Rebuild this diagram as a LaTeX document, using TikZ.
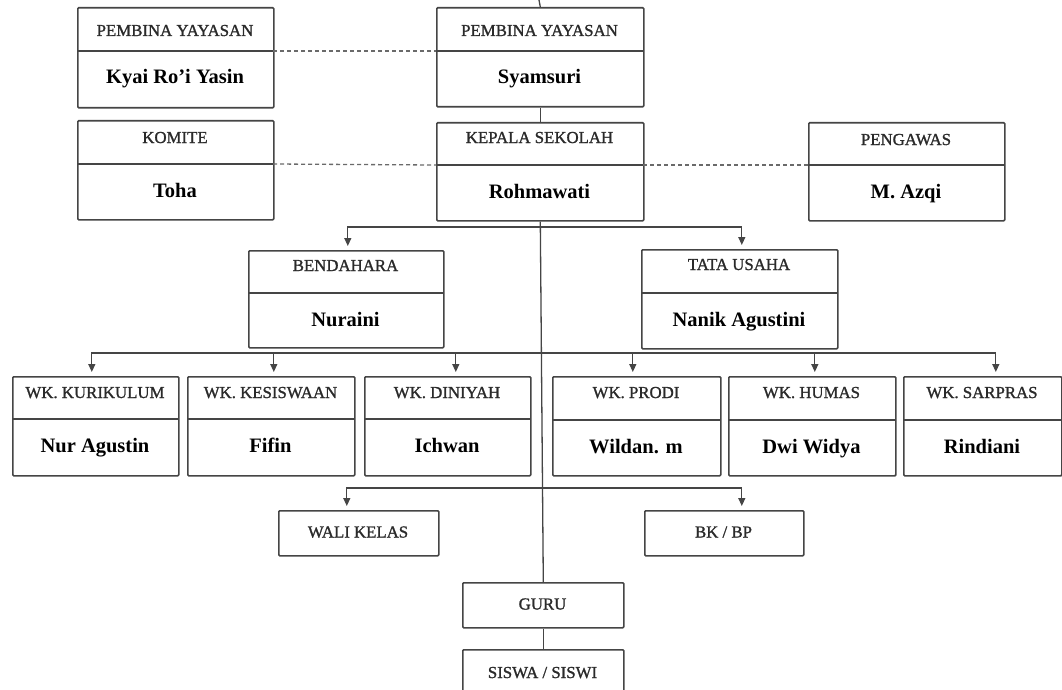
\documentclass[tikz,border=0pt]{standalone}
\usepackage{fontspec}
\setmainfont{Liberation Serif}
\newfontfamily\hdrfont{Liberation Serif}[FakeBold=1.2]
\usetikzlibrary{arrows.meta}
\definecolor{ln}{HTML}{454545}
\definecolor{hd}{HTML}{2a2a2a}
\tikzset{
  box/.style={draw=ln, line width=1.6pt, rectangle, rounded corners=1pt, inner sep=0pt, fill=white},
  boxline/.style={draw=ln, line width=1.5pt},
  hdr/.style={inner sep=0pt, text=hd, font=\hdrfont\fontsize{16.8}{19}\selectfont},
  nm/.style={inner sep=0pt, text=black, font=\bfseries\fontsize{20.5}{23}\selectfont},
  conn/.style={draw=ln, line width=1.3pt},
  arr/.style={conn, -{Triangle[length=8pt,width=7pt]}, shorten >=4pt},
  dashlink/.style={draw=ln!80, line width=1.3pt, dash pattern=on 4pt off 3pt},
}
\newcommand\orgbox[9]{%
  \node[box, anchor=north west, minimum width={(#4-#2)*1pt}, minimum height={(#5-#3)*1pt}] (#1) at (#2,#3) {};
  \draw[boxline] (#2,#6) coordinate (#1-dw) -- (#4,#6) coordinate (#1-de);
  \node[hdr, anchor=base] (#1-h) at ({(#2+#4)/2},{#3+#7}) {#8};
  \node[nm, anchor=base] (#1-n) at ({(#2+#4)/2},{#6+33}) {#9};
}
\newcommand\simplebox[6]{%
  \node[box, anchor=north west, minimum width={(#4-#2)*1pt}, minimum height={(#5-#3)*1pt}] (#1) at (#2,#3) {};
  \node[hdr, anchor=base] (#1-t) at ({(#2+#4)/2},{(#3+#5)/2+5}) {#6};
}
\begin{document}
\begin{tikzpicture}[x=1pt,y=-1pt]
\clip (0,0) rectangle (1062,690);
\fill[white] (0,0) rectangle (1062,690);

% top rows
\orgbox{kyai}{77}{7}{273}{107}{51}{29}{PEMBINA YAYASAN}{Kyai Ro’i Yasin}
\orgbox{syam}{436}{7}{643}{106}{51}{29}{PEMBINA YAYASAN}{Syamsuri}
\orgbox{komite}{77}{120}{273}{219}{164}{23}{KOMITE}{Toha}
\orgbox{kepala}{436}{122}{643}{220}{165}{21}{KEPALA SEKOLAH}{Rohmawati}
\orgbox{pengawas}{808}{122}{1004}{220}{165}{23}{PENGAWAS}{M. Azqi}

% second level
\orgbox{bend}{248}{250}{443}{347}{293}{21}{BENDAHARA}{Nuraini}
\orgbox{tata}{641}{249}{837}{348}{293}{21}{TATA USAHA}{Nanik Agustini}

% WK row
\orgbox{wka}{12}{376}{178}{475}{419}{22}{WK. KURIKULUM}{Nur Agustin}
\orgbox{wkb}{187}{376}{354}{475}{419}{22}{WK. KESISWAAN}{Fifin}
\orgbox{wkc}{364}{376}{530}{475}{419}{22}{WK. DINIYAH}{Ichwan}
\orgbox{wkd}{552}{376}{720}{475}{420}{22}{WK. PRODI}{Wildan. m}
\orgbox{wke}{728}{376}{895}{475}{420}{22}{WK. HUMAS}{Dwi Widya}
\orgbox{wkf}{903}{376}{1061}{475}{420}{22}{WK. SARPRAS}{Rindiani}

% lower boxes
\simplebox{wali}{278}{510}{438}{555}{WALI KELAS}
\simplebox{bk}{644}{510}{803}{555}{BK / BP}
\simplebox{guru}{462}{582}{623}{627}{GURU}
\simplebox{siswa}{462}{649}{623}{697}{SISWA / SISWI}

% dashed links
\draw[dashlink] (kyai-de) -- (syam-dw);
\draw[dashlink] (komite-de) -- (kepala-dw);
\draw[dashlink] (kepala-de) -- (pengawas-dw);

% vertical links
\coordinate (toptick) at (539,0);
\draw[conn] (toptick) -- (syam.north);
\draw[conn] (syam.south) -- (kepala.north);
\draw[conn] (kepala.south) -- (guru.north);
\draw[conn] (guru.south) -- (siswa.north);

% branch 1
\coordinate (j1) at (540,227);
\draw[arr] (j1) -| ([xshift=1.5pt]bend.north);
\draw[arr] (j1) -| ([xshift=2pt]tata.north);

% branch 2
\coordinate (j2) at (541,353);
\draw[arr] (j2) -| ([xshift=-4pt]wka.north);
\draw[arr] (j2) -| ([xshift=2.5pt]wkb.north);
\draw[arr] (j2) -| ([xshift=8pt]wkc.north);
\draw[arr] (j2) -| ([xshift=-4pt]wkd.north);
\draw[arr] (j2) -| ([xshift=2.5pt]wke.north);
\draw[arr] (j2) -| ([xshift=13pt]wkf.north);

% branch 3
\coordinate (j3) at (542,488);
\draw[arr] (j3) -| ([xshift=-12pt]wali.north);
\draw[arr] (j3) -| ([xshift=17.5pt]bk.north);
\end{tikzpicture}
\end{document}
